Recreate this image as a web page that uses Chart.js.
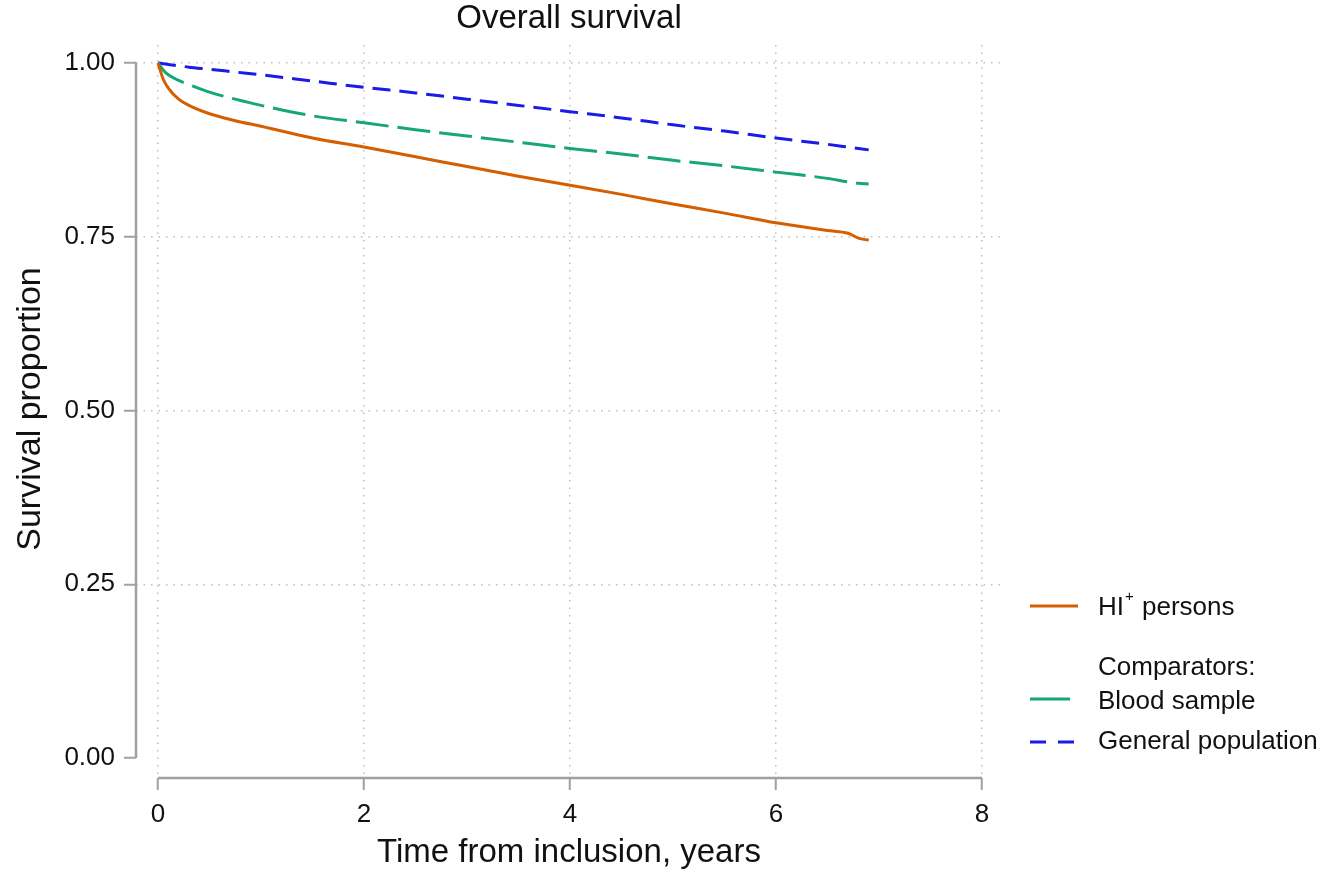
<!DOCTYPE html>
<html>
<head>
<meta charset="utf-8">
<script src="https://cdn.jsdelivr.net/npm/chart.js@4.4.1/dist/chart.umd.min.js"></script>
<style>
  html, body { margin: 0; padding: 0; background: #fff; }
  #wrap { width: 1328px; height: 885px; position: relative; }
</style>
</head>
<body>
<div id="wrap"><canvas id="survChart"></canvas></div>
<script>
// Kaplan-Meier style curves
const years = [0, 0.05, 0.1, 0.2, 0.3, 0.5, 0.75, 1, 1.5, 2, 2.5, 3, 3.5, 4, 4.5, 5, 5.5, 6, 6.5, 6.7, 6.8, 6.9];
const hiPersons = [1.000, 0.977, 0.964, 0.948, 0.939, 0.927, 0.917, 0.909, 0.892, 0.879, 0.865, 0.851, 0.837, 0.824, 0.811, 0.797, 0.784, 0.770, 0.759, 0.755, 0.748, 0.745];
const bloodSample = [1.000, 0.990, 0.983, 0.975, 0.969, 0.958, 0.948, 0.939, 0.924, 0.914, 0.904, 0.895, 0.886, 0.877, 0.869, 0.860, 0.852, 0.843, 0.834, 0.829, 0.827, 0.826];
const generalPop = [1.000, 0.999, 0.998, 0.996, 0.994, 0.991, 0.987, 0.983, 0.974, 0.965, 0.957, 0.948, 0.939, 0.930, 0.921, 0.911, 0.902, 0.892, 0.883, 0.879, 0.877, 0.875];

const xTicks = [0, 2, 4, 6, 8];
const yTicks = [0, 0.25, 0.5, 0.75, 1];

const FONT = 'Liberation Sans, Arial, Helvetica, sans-serif';
const ORANGE = '#d55e00';
const GREEN = '#17a57a';
const BLUE = '#1b1be6';
const AXIS = '#a0a0a0';
const GRID = '#bdbdbd';

const toPoints = arr => years.map((t, i) => ({ x: t, y: arr[i] }));

// axes drawn offset from plot (stata look), plus titles + legend
const decorPlugin = {
  id: 'decor',
  afterDraw(chart) {
    const { ctx, scales } = chart;
    const xs = scales.x, ys = scales.y;
    const ca = chart.chartArea;
    ctx.save();

    // axis lines
    ctx.strokeStyle = AXIS;
    ctx.lineWidth = 2.5;
    ctx.setLineDash([]);
    ctx.beginPath();
    ctx.moveTo(ca.left, ys.getPixelForValue(0));
    ctx.lineTo(ca.left, ys.getPixelForValue(1));
    ctx.moveTo(xs.getPixelForValue(0), ca.bottom);
    ctx.lineTo(xs.getPixelForValue(8), ca.bottom);
    ctx.stroke();

    ctx.fillStyle = '#111';
    // title
    ctx.font = '33px ' + FONT;
    ctx.textAlign = 'center';
    ctx.textBaseline = 'middle';
    ctx.fillText('Overall survival', (ca.left + ca.right) / 2, 19);

    // axis titles
    ctx.font = '33px ' + FONT;
    ctx.fillText('Time from inclusion, years', (ca.left + ca.right) / 2, 853);
    ctx.save();
    ctx.translate(31, 409);
    ctx.rotate(-Math.PI / 2);
    ctx.font = '34px ' + FONT;
    ctx.fillText('Survival proportion', 0, 0);
    ctx.restore();

    // legend
    const lx0 = 1030, lx1 = 1078, tx = 1098;
    ctx.font = '26px ' + FONT;
    ctx.textAlign = 'left';
    ctx.lineWidth = 3;

    const legLine = (y, color, dash, x1) => {
      ctx.strokeStyle = color;
      ctx.setLineDash(dash);
      ctx.beginPath();
      ctx.moveTo(lx0, y);
      ctx.lineTo(x1, y);
      ctx.stroke();
      ctx.setLineDash([]);
    };

    legLine(606, ORANGE, [], lx1);
    ctx.fillText('HI', tx, 608);
    let w = ctx.measureText('HI').width;
    ctx.font = '15px ' + FONT;
    ctx.fillText('+', tx + w + 1, 597);
    const wp = ctx.measureText('+').width;
    ctx.font = '26px ' + FONT;
    ctx.fillText(' persons', tx + w + wp + 2, 608);

    ctx.fillText('Comparators:', tx, 668);

    legLine(699, GREEN, [], 1070);
    ctx.fillText('Blood sample', tx, 702);

    legLine(742, BLUE, [16, 12], lx1);
    ctx.fillText('General population', tx, 742);

    ctx.restore();
  }
};

const ctx = document.getElementById('survChart').getContext('2d');
const survChart = new Chart(ctx, {
  type: 'line',
  data: {
    datasets: [
      {
        label: 'HI+ persons',
        data: toPoints(hiPersons),
        borderColor: ORANGE,
        borderWidth: 3,
        pointRadius: 0,
        cubicInterpolationMode: 'monotone'
      },
      {
        label: 'Blood sample',
        data: toPoints(bloodSample),
        borderColor: GREEN,
        borderWidth: 3,
        borderDash: [33, 9],
        pointRadius: 0,
        cubicInterpolationMode: 'monotone'
      },
      {
        label: 'General population',
        data: toPoints(generalPop),
        borderColor: BLUE,
        borderWidth: 3,
        borderDash: [18, 9],
        pointRadius: 0,
        cubicInterpolationMode: 'monotone'
      }
    ]
  },
  options: {
    responsive: true,
    maintainAspectRatio: false,
    animation: false,
    layout: { padding: { top: 45, right: 326, left: 0, bottom: 0 } },
    plugins: {
      legend: { display: false },
      title: { display: false },
      tooltip: { enabled: false }
    },
    scales: {
      x: {
        type: 'linear',
        min: -22 / 103,
        max: 8 + 20 / 103,
        afterBuildTicks: s => { s.ticks = xTicks.map(v => ({ value: v })); },
        afterFit: s => { s.height = 107; },
        border: { display: false, dash: [1.5, 6] },
        grid: {
          color: GRID,
          lineWidth: 1.5,
          drawTicks: true,
          tickLength: 12,
          tickColor: AXIS,
          tickWidth: 2,
          tickBorderDash: []
        },
        ticks: {
          color: '#111',
          padding: 9,
          font: { size: 26, family: FONT },
          maxRotation: 0,
          callback: v => String(v)
        }
      },
      y: {
        type: 'linear',
        min: -20 / 695,
        max: 1 + 18 / 695,
        afterBuildTicks: s => { s.ticks = yTicks.map(v => ({ value: v })); },
        afterFit: s => { s.width = 136; },
        border: { display: false, dash: [1.5, 6] },
        grid: {
          color: c => (c.tick && c.tick.value === 0) ? 'rgba(0,0,0,0)' : GRID,
          lineWidth: 1.5,
          drawTicks: true,
          tickLength: 12,
          tickColor: AXIS,
          tickWidth: 2,
          tickBorderDash: []
        },
        ticks: {
          color: '#111',
          padding: 9,
          font: { size: 26, family: FONT },
          callback: v => Number(v).toFixed(2)
        }
      }
    }
  },
  plugins: [decorPlugin]
});
</script>
</body>
</html>
